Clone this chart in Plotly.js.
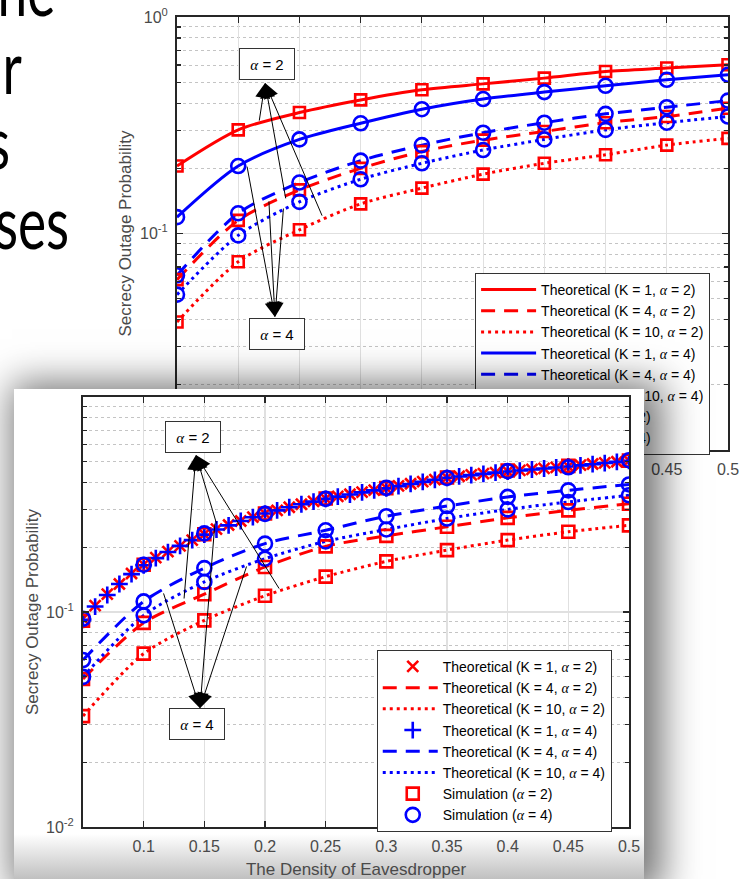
<!DOCTYPE html>
<html><head><meta charset="utf-8">
<script src="https://cdn.plot.ly/plotly-3.0.1.min.js"></script>
<style>
html,body{margin:0;padding:0;}
body{width:742px;height:879px;overflow:hidden;background:#fff;position:relative;}
.sl{position:absolute;font-family:Lato,'Open Sans',sans-serif;font-size:74px;line-height:74px;color:#000;white-space:nowrap;
  transform:scaleX(0.72);transform-origin:right center;}
#chartA{position:absolute;left:0;top:0;width:742px;height:500px;}
#chartB{position:absolute;left:14px;top:389px;width:630px;height:490px;
  box-shadow:8px 4px 36px 10px rgba(0,0,0,0.55);
  background:linear-gradient(to bottom,#ffffff 0px,#ffffff 445px,#c0c0c0 490px);}
</style></head>
<body>
<div class="sl" style="right:687px;top:-49px;">he</div>
<div class="sl" style="right:720px;top:29px;">r</div>
<div class="sl" style="right:732px;top:104px;">s</div>
<div class="sl" style="right:673px;top:184px;">ses</div>
<div id="chartA"></div>
<div id="chartB"></div>
<script>
// ---------- data ----------
const xSim = [0.05,0.1,0.15,0.2,0.25,0.3,0.35,0.4,0.45,0.5];
const xFine = [0.05,0.06,0.07,0.08,0.09,0.10,0.11,0.12,0.13,0.14,0.15,0.16,0.17,0.18,0.19,0.20,
  0.21,0.22,0.23,0.24,0.25,0.26,0.27,0.28,0.29,0.30,0.31,0.32,0.33,0.34,0.35,0.36,0.37,0.38,0.39,0.40,
  0.41,0.42,0.43,0.44,0.45,0.46,0.47,0.48,0.49,0.50];
const xTicks = [0.1,0.15,0.2,0.25,0.3,0.35,0.4,0.45,0.5];
const xTickText = ['0.1','0.15','0.2','0.25','0.3','0.35','0.4','0.45','0.5'];
const yTicks = [0.01,0.1,1];
const yTickText = ['10<sup>-2</sup>','10<sup>-1</sup>','10<sup>0</sup>'];
const yMinor = [0.02,0.03,0.04,0.05,0.06,0.07,0.08,0.09,0.2,0.3,0.4,0.5,0.6,0.7,0.8,0.9];

// top chart (A)
const A_K1_a2  = [0.205,0.301,0.362,0.414,0.461,0.491,0.522,0.560,0.581,0.602];
const A_K4_a2  = [0.0612,0.115,0.159,0.200,0.239,0.270,0.296,0.325,0.347,0.379];
const A_K10_a2 = [0.039,0.074,0.104,0.137,0.162,0.188,0.211,0.231,0.256,0.275];
const A_K1_a4  = [0.119,0.205,0.272,0.323,0.375,0.418,0.450,0.481,0.513,0.541];
const A_K4_a4  = [0.0641,0.124,0.172,0.217,0.256,0.292,0.325,0.357,0.383,0.411];
const A_K10_a4 = [0.0522,0.098,0.140,0.178,0.211,0.243,0.272,0.301,0.325,0.347];

// bottom chart (B)
const B_K1_a2 = [0.093,0.107,0.121,0.135,0.151,0.166,0.179,0.191,0.203,0.216,0.230,0.243,0.254,0.265,0.276,0.287,
  0.297,0.307,0.317,0.327,0.337,0.345,0.353,0.361,0.369,0.377,0.386,0.395,0.404,0.413,0.422,0.428,0.434,0.440,0.445,0.451,
  0.456,0.461,0.466,0.471,0.476,0.482,0.488,0.494,0.500,0.506];
const B_K1_a4 = [0.092,0.106,0.120,0.135,0.150,0.165,0.178,0.190,0.203,0.216,0.229,0.242,0.253,0.265,0.276,0.287,
  0.297,0.307,0.317,0.326,0.336,0.344,0.352,0.360,0.368,0.376,0.385,0.394,0.403,0.412,0.421,0.427,0.433,0.439,0.445,0.450,
  0.455,0.460,0.465,0.470,0.475,0.481,0.487,0.493,0.499,0.505];
const B_K4_a2  = [0.0488,0.089,0.121,0.162,0.202,0.226,0.249,0.274,0.297,0.319];
const B_K10_a2 = [0.0328,0.064,0.0914,0.119,0.146,0.172,0.194,0.216,0.236,0.253];
const B_K4_a4  = [0.0598,0.112,0.160,0.208,0.240,0.279,0.311,0.343,0.368,0.392];
const B_K10_a4 = [0.0499,0.0965,0.138,0.177,0.213,0.242,0.272,0.300,0.325,0.349];
const B_simK1_a2 = [0.091,0.166,0.230,0.287,0.337,0.377,0.422,0.455,0.478,0.506];
const B_simK1_a4 = [0.093,0.166,0.232,0.286,0.336,0.378,0.420,0.452,0.471,0.508];

// ---------- helpers ----------
const F = '"Liberation Sans", Arial, Helvetica, sans-serif';
const RED = '#ff0000', BLUE = '#0000ff';
const AL = '<span style="font-family:\'Liberation Serif\',serif;font-style:italic">α</span>';
function lbl(k,a){ return 'Theoretical (K = '+k+', '+AL+' = '+a+')'; }
function simLbl(a){ return 'Simulation ('+AL+' = '+a+')'; }
function line(x,y,color,dash,name){
  return {x:x,y:y,mode:'lines',name:name,line:{color:color,width:3,dash:dash,shape:'spline',smoothing:0.8},hoverinfo:'skip'};
}
function joinX(n){ let r=[]; for(let i=0;i<n;i++){ r=r.concat(xSim); r.push(null);} return r; }
function joinY(arrs){ let r=[]; arrs.forEach(a=>{ r=r.concat(a); r.push(null); }); return r; }
function markers(x,y,sym,color,size,name){
  return {x:x,y:y,mode:'markers',name:name,marker:{symbol:sym,size:size,color:color,line:{color:color,width:2.6}},hoverinfo:'skip'};
}
function xaxis(title){
  return {range:[0.05,0.5],tickmode:'array',tickvals:xTicks,ticktext:xTickText,showline:true,linecolor:'#262626',linewidth:2,
    mirror:'ticks',ticks:'inside',ticklen:6,tickwidth:1.2,tickcolor:'#262626',showgrid:true,gridcolor:'#e0e0e0',gridwidth:1.2,
    zeroline:false,tickfont:{family:F,size:16,color:'#4a4a4a'},ticklabelstandoff:4,ticklabeloverflow:'allow',
    title:{text:title,font:{family:F,size:17,color:'#4a4a4a'},standoff:9},fixedrange:true};
}
function yaxis(title,so){
  return {type:'log',range:[-2,0],tickmode:'array',tickvals:yTicks,ticktext:yTickText,showline:true,linecolor:'#262626',linewidth:2,
    mirror:'ticks',ticks:'inside',ticklen:6,tickwidth:1.2,tickcolor:'#262626',showgrid:true,gridcolor:'#e0e0e0',gridwidth:1.2,
    zeroline:false,tickfont:{family:F,size:16,color:'#4a4a4a'},ticklabelstandoff:4,
    minor:{tickmode:'array',tickvals:yMinor,ticks:'inside',ticklen:4,tickcolor:'#262626',showgrid:true,gridcolor:'#c4c4c4',griddash:'dot',gridwidth:1},
    title:{text:title,font:{family:F,size:17,color:'#4a4a4a'},standoff:so},fixedrange:true};
}
const L10 = Math.log10;
function arrow(hx,hy,tx,ty){
  return {x:hx,y:L10(hy),ax:tx,ay:L10(ty),xref:'x',yref:'y',axref:'x',ayref:'y',text:'',showarrow:true,
    arrowhead:2,arrowsize:3,arrowwidth:1,arrowcolor:'#000',standoff:0,startstandoff:0};
}
function box(cx,cy,txt){
  return {x:cx,y:L10(cy),xref:'x',yref:'y',text:txt,showarrow:false,font:{family:F,size:15,color:'#000'},
    bgcolor:'#fff',bordercolor:'#333',borderwidth:1,borderpad:3,width:48,height:24};
}
const a2txt = AL+' = 2', a4txt = AL+' = 4';
const DASH='14px,9px', DOT='3px,4px';
const legendFont = {family:F,size:14,color:'#000'};

// shift the legend marker symbols a little left, like the original
function fixLegend(gd){
  gd.querySelectorAll('.legend .legendpoints path').forEach(p=>p.setAttribute('transform','translate(35,0)'));
}
function hook(id){
  const gd = document.getElementById(id);
  fixLegend(gd);
  if (gd.on) gd.on('plotly_afterplot',()=>fixLegend(gd));
  setTimeout(()=>fixLegend(gd),200);
}

// ---------- chart A ----------
const tracesA = [
  line(xSim,A_K1_a2,RED,'solid',lbl(1,2)),
  line(xSim,A_K4_a2,RED,DASH,lbl(4,2)),
  line(xSim,A_K10_a2,RED,DOT,lbl(10,2)),
  line(xSim,A_K1_a4,BLUE,'solid',lbl(1,4)),
  line(xSim,A_K4_a4,BLUE,DASH,lbl(4,4)),
  line(xSim,A_K10_a4,BLUE,DOT,lbl(10,4)),
  markers(joinX(3),joinY([A_K1_a2,A_K4_a2,A_K10_a2]),'square-open',RED,11,simLbl(2)),
  markers(joinX(3),joinY([A_K1_a4,A_K4_a4,A_K10_a4]),'circle-open',BLUE,14,simLbl(4))
];
const layoutA = {
  width:742,height:500,margin:{l:177,r:14,t:17,b:50},paper_bgcolor:'rgba(0,0,0,0)',plot_bgcolor:'#fff',
  xaxis:xaxis('The Density of Eavesdropper'),yaxis:yaxis('Secrecy Outage Probability',4),
  showlegend:true,
  legend:{x:0.541,y:0.409,xanchor:'left',yanchor:'top',bgcolor:'#fff',bordercolor:'#333',borderwidth:1,
    font:legendFont,itemwidth:55,tracegroupgap:0},
  annotations:[
    arrow(0.1219,0.496,0.117,0.327), arrow(0.1219,0.496,0.139,0.143), arrow(0.1219,0.496,0.169,0.119),
    arrow(0.130,0.0411,0.107,0.207), arrow(0.130,0.0411,0.125,0.143), arrow(0.130,0.0411,0.137,0.1325),
    box(0.1239,0.604,a2txt), box(0.1313,0.0343,a4txt)
  ]
};
Plotly.newPlot('chartA',tracesA,layoutA,{staticPlot:true}).then(()=>hook('chartA'));

// ---------- chart B ----------
const tracesB = [
  markers(xFine,B_K1_a2,'x-thin-open',RED,11,lbl(1,2)),
  line(xSim,B_K4_a2,RED,DASH,lbl(4,2)),
  line(xSim,B_K10_a2,RED,DOT,lbl(10,2)),
  markers(xFine,B_K1_a4,'cross-thin-open',BLUE,12,lbl(1,4)),
  line(xSim,B_K4_a4,BLUE,DASH,lbl(4,4)),
  line(xSim,B_K10_a4,BLUE,DOT,lbl(10,4)),
  markers(joinX(3),joinY([B_simK1_a2,B_K4_a2,B_K10_a2]),'square-open',RED,12,simLbl(2)),
  markers(joinX(3),joinY([B_simK1_a4,B_K4_a4,B_K10_a4]),'circle-open',BLUE,14,simLbl(4))
];
const layoutB = {
  width:630,height:490,margin:{l:69,r:15,t:8,b:52},paper_bgcolor:'rgba(0,0,0,0)',plot_bgcolor:'#fff',
  xaxis:xaxis('The Density of Eavesdropper'),yaxis:yaxis('Secrecy Outage Probability',3),
  showlegend:true,
  legend:{x:0.538,y:0.412,xanchor:'left',yanchor:'top',bgcolor:'#fff',bordercolor:'#333',borderwidth:1,
    font:legendFont,itemwidth:55,tracegroupgap:0},
  annotations:[
    arrow(0.1431,0.537,0.1332,0.1137), arrow(0.1431,0.537,0.1604,0.254), arrow(0.1431,0.537,0.2124,0.1265),
    arrow(0.1464,0.0357,0.116,0.124), arrow(0.1464,0.0357,0.1588,0.262), arrow(0.1464,0.0357,0.1852,0.1655),
    box(0.1403,0.652,a2txt), box(0.144,0.0301,a4txt)
  ]
};
Plotly.newPlot('chartB',tracesB,layoutB,{staticPlot:true}).then(()=>hook('chartB'));
</script>
</body></html>
